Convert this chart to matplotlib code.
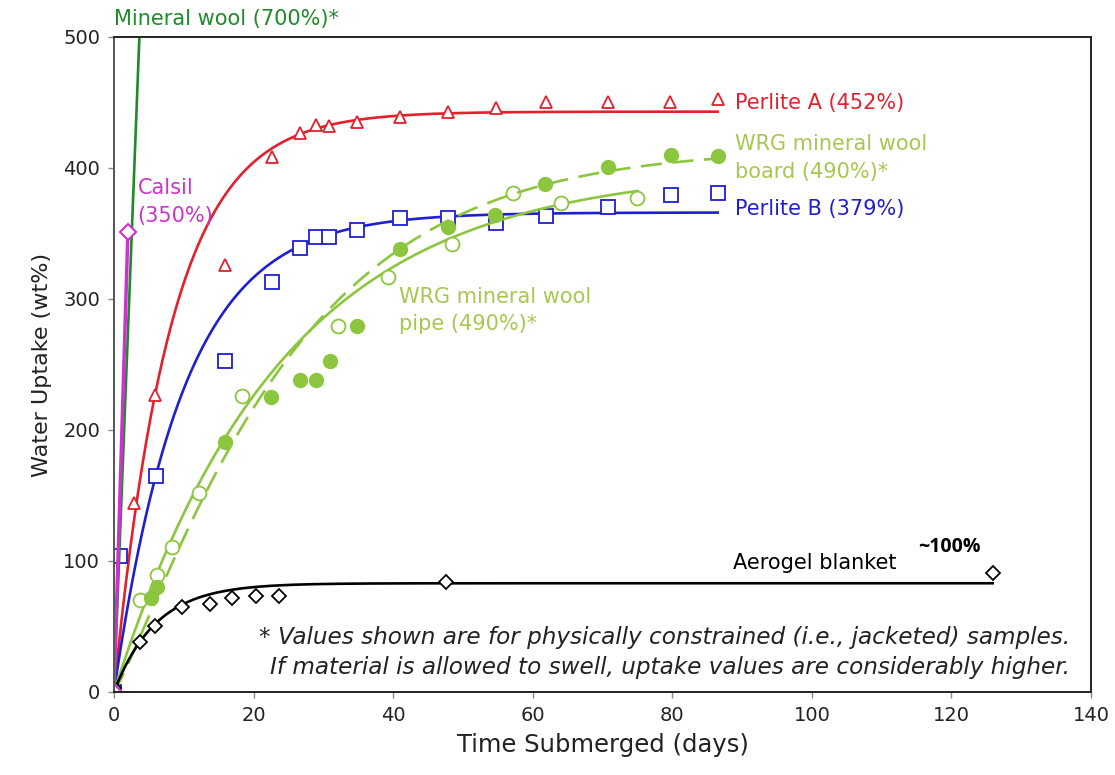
import numpy as np
import matplotlib
matplotlib.use('Agg')
from matplotlib import pyplot as plt

# measured points (days, wt%)
perliteA_t = [0, 2.9, 5.9, 15.9, 22.6, 26.6, 28.9, 30.8, 34.8, 41.0, 47.9, 54.7, 61.9, 70.8, 79.7, 86.5]
perliteA_w = [0, 144, 227, 326, 408, 427, 433, 432, 435, 439, 443, 446, 450, 450, 450, 453]

perliteB_t = [0, 0.9, 6.0, 15.9, 22.6, 26.6, 28.9, 30.8, 34.8, 41.0, 47.9, 54.8, 61.9, 70.8, 79.8, 86.5]
perliteB_w = [0, 104, 165, 253, 313, 339, 347, 347, 353, 362, 362, 358, 363, 370, 379, 381]

pipe_t = [0, 3.8, 6.1, 8.3, 12.2, 18.4, 32.1, 39.3, 48.4, 57.2, 64.1, 74.9]
pipe_w = [0, 70, 89, 111, 152, 226, 279, 317, 342, 381, 373, 377]

board_t = [0, 5.3, 6.1, 15.9, 22.5, 26.6, 29.0, 30.9, 34.8, 41.0, 47.9, 54.6, 61.7, 70.8, 79.8, 86.6]
board_w = [0, 72, 80, 191, 225, 238, 238, 253, 279, 338, 355, 364, 388, 401, 410, 409]

aerogel_t = [0, 3.7, 5.9, 9.7, 13.7, 16.9, 20.4, 23.6, 47.6, 125.9]
aerogel_w = [3, 38, 50, 65, 67, 72, 73, 73, 84, 91]

calsil_t = [0, 2.0]
calsil_w = [0, 351]

minwool_t = [0, 5.1]
minwool_w = [0, 700]

# fitted curves: plateau, time constant, shape, end day
fits = {
    'perliteA': (443, 8.2, 1.0, 86.5),
    'perliteB': (366, 10.0, 1.0, 86.5),
    'pipe': (400, 24.0, 1.0, 75.0),
    'board': (415, 26.0, 1.15, 86.6),
    'aerogel': (83, 6.0, 1.0, 125.9),
}

red = '#e3202b'
blue = '#1f1fd0'
lime = '#8cc63f'
lime_txt = '#a6c850'
magenta = '#cc33cc'
green = '#1f8a2a'


def fit_curve(name):
    A, tau, n, end = fits[name]
    t = np.linspace(0, end, 300)
    return t, A * (1 - np.exp(-(t / tau) ** n))


fig = plt.figure(figsize=(11.15, 7.75), dpi=100)
ax = fig.add_axes([0.1022, 0.1071, 0.8763, 0.8452])

lw = 1.9
ax.plot(*fit_curve('perliteA'), color=red, lw=lw)
ax.plot(perliteA_t, perliteA_w, '^', mfc='white', mec=red, ms=9, mew=1.3, ls='none')

ax.plot(*fit_curve('perliteB'), color=blue, lw=lw)
ax.plot(perliteB_t, perliteB_w, 's', mfc='white', mec=blue, ms=10, mew=1.3, ls='none')

ax.plot(*fit_curve('pipe'), color=lime, lw=lw)
ax.plot(pipe_t, pipe_w, 'o', mfc='white', mec=lime, ms=10, mew=1.3, ls='none')

ax.plot(*fit_curve('board'), color=lime, lw=lw, ls=(0, (8, 4)))
ax.plot(board_t, board_w, 'o', mfc=lime, mec=lime, ms=10, ls='none')

ax.plot(*fit_curve('aerogel'), color='black', lw=lw)
ax.plot(aerogel_t, aerogel_w, 'D', mfc='white', mec='black', ms=7, mew=1.3, ls='none')

ax.plot(minwool_t, minwool_w, color=green, lw=lw)
ax.plot(calsil_t, calsil_w, color=magenta, lw=lw + 0.6, marker='D', mfc='white',
        mec=magenta, ms=8, mew=1.5)

ax.set_xlim(0, 140)
ax.set_ylim(0, 500)
ax.set_xticks(range(0, 141, 20))
ax.set_yticks(range(0, 501, 100))
ax.tick_params(direction='out', length=4, width=1, color='#888888',
               labelsize=14, labelcolor='#222222', pad=6)
for s in ax.spines.values():
    s.set_linewidth(1.4)
    s.set_color('#222222')
ax.spines['left'].set_color('#555555')

ax.set_xlabel('Time Submerged (days)', fontsize=17.5, color='#222222', labelpad=6)
ax.set_ylabel('Water Uptake (wt%)', fontsize=16, color='#222222', labelpad=8)

fs = 15
ax.text(0, 514, 'Mineral wool (700%)*', color=green, fontsize=fs, va='center', clip_on=False)
ax.text(3.4, 374, 'Calsil\n(350%)', color=magenta, fontsize=fs, va='center', linespacing=1.45)
ax.text(89.0, 449.6, 'Perlite A (452%)', color=red, fontsize=fs, va='center')
ax.text(89.0, 407.5, 'WRG mineral wool\nboard (490%)*', color=lime_txt, fontsize=fs,
        va='center', linespacing=1.5)
ax.text(89.0, 368.7, 'Perlite B (379%)', color=blue, fontsize=fs, va='center')
ax.text(40.9, 291, 'WRG mineral wool\npipe (490%)*', color=lime_txt, fontsize=fs,
        va='center', linespacing=1.45)
ax.text(88.7, 98.5, 'Aerogel blanket', color='black', fontsize=fs, va='center')
ax.text(115.2, 110.5, '~100%', color='black', fontsize=14, fontweight='bold',
        family='Open Sans', va='center')
ax.text(137.0, 30, '* Values shown are for physically constrained (i.e., jacketed) samples.\n'
        'If material is allowed to swell, uptake values are considerably higher.',
        fontsize=16.7, style='italic', ha='right', va='center', multialignment='right',
        linespacing=1.4, color='#222222')

fig.savefig('out.png', dpi=100)
